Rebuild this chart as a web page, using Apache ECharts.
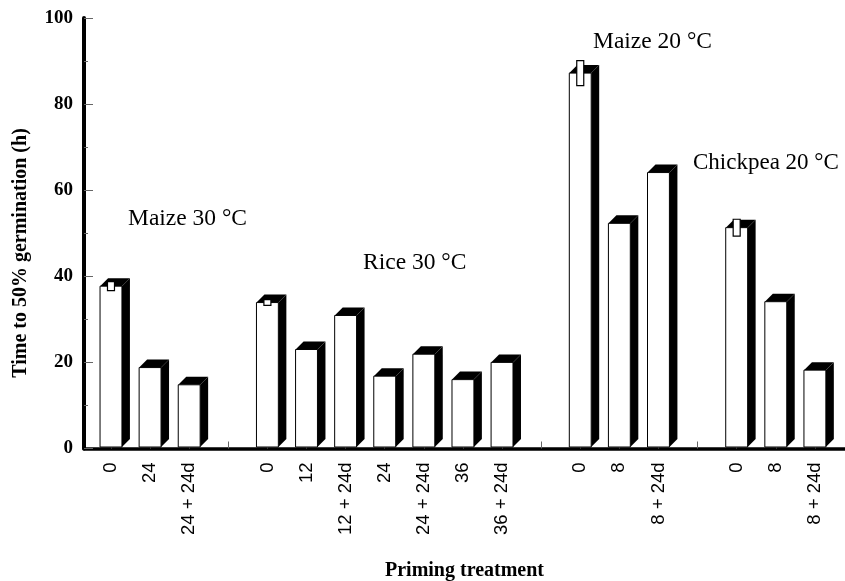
<!DOCTYPE html>
<html lang="en">
<head>
  <meta charset="UTF-8">
  <title>Priming</title>
  <style>
    body{
      margin: 0;
    }
    .chart{
      width: 845px;
      height: 581px;
      background: white;
    }
  </style>
</head>
<body>
<div class="chart"></div>
<script src="https://cdn.jsdelivr.net/npm/echarts@6/dist/echarts.min.js"></script>
<script>
  // one slot per tick, '' = gap between crop groups
  const treatments = ['0', '24', '24 + 24d', '',
    '0', '12', '12 + 24d', '24', '24 + 24d', '36', '36 + 24d', '',
    '0', '8', '8 + 24d', '',
    '0', '8', '8 + 24d'];
  const hours = [37.7, 18.8, 14.8, null,
    33.9, 23.0, 30.9, 16.8, 21.9, 16.0, 20.0, null,
    87.2, 52.3, 64.1, null,
    51.3, 34.1, 18.2];
  const errs = [1.05, 0, 0, null,
    0.66, 0, 0, 0, 0, 0, 0, null,
    2.9, 0, 0, null,
    1.95, 0, 0];
  const groupNames = ['Maize 30 °C', 'Rice 30 °C', 'Maize 20 °C', 'Chickpea 20 °C'];

  const serif = '"Liberation Serif", "Times New Roman", serif';
  const sans = '"Liberation Sans", Arial, sans-serif';

  const data = [];
  hours.forEach((h, i) => {
    if (h !== null) data.push([i, h, errs[i]]);
  });
  const slots = treatments.map((t, i) => i);

  function renderBar(params, api){
    const x = api.value(0);
    const v = api.value(1);
    const e = api.value(2);
    const p = api.coord([x, v]);
    const p0 = api.coord([x, 0]);
    const w = api.size([1, 0])[0] * 0.56;
    const d = 8;
    const l = p[0] - w / 2, r = p[0] + w / 2, t = p[1], b = p0[1] - 1.5;
    const children = [
      {
        type: 'polygon',
        shape: {points: [[r, t], [r + d, t - d], [r + d, b - d], [r, b]]},
        style: {fill: '#000'}
      },
      {
        type: 'polygon',
        shape: {points: [[l, t], [l + d, t - d], [r + d, t - d], [r, t]]},
        style: {fill: '#000'}
      },
      {
        type: 'rect',
        shape: {x: l, y: t, width: w, height: b - t},
        style: {fill: '#fff', stroke: '#000', lineWidth: 1}
      }
    ];
    if (e > 0){
      const hi = api.coord([x, v + e]);
      const lo = api.coord([x, v - e]);
      children.push({
        type: 'rect',
        shape: {x: p[0] - 3.5, y: hi[1], width: 7, height: lo[1] - hi[1]},
        style: {fill: '#fff', stroke: '#000', lineWidth: 1.2}
      });
    }
    return {type: 'group', children: children};
  }

  const container = document.querySelector('.chart');
  const instance = echarts.init(container);
  const option = {
    animation: false,
    grid: {left: 84, right: 0, top: 18, bottom: 132.5, outerBoundsMode: 'none'},
    xAxis: {
      type: 'value',
      min: -0.69,
      max: 18.77,
      name: 'Priming treatment',
      nameLocation: 'middle',
      nameGap: 112,
      nameTextStyle: {fontFamily: serif, fontWeight: 'bold', fontSize: 20, color: '#000'},
      splitLine: {show: false},
      axisLine: {lineStyle: {color: '#000', width: 3.5}},
      axisTick: {
        customValues: slots,
        inside: true,
        length: 7,
        lineStyle: {color: '#666', width: 1}
      },
      axisLabel: {
        customValues: slots,
        rotate: 90,
        margin: 14,
        fontFamily: sans,
        fontSize: 18.5,
        color: '#000',
        formatter: (v) => treatments[Math.round(v)] || ''
      }
    },
    yAxis: {
      type: 'value',
      min: 0,
      max: 100,
      interval: 20,
      splitLine: {show: false},
      axisLine: {show: true, onZero: false, lineStyle: {color: '#000', width: 4}},
      axisTick: {inside: true, length: 9, lineStyle: {color: '#666', width: 1}},
      minorTick: {show: true, splitNumber: 2, length: 4, lineStyle: {color: '#666', width: 1}},
      axisLabel: {fontFamily: serif, fontWeight: 'bold', fontSize: 19, color: '#000', margin: 11}
    },
    graphic: [
      {
        type: 'text', x: 21, y: 253, rotation: Math.PI / 2,
        style: {
          text: 'Time to 50% germination (h)', font: 'bold 20px ' + serif,
          fill: '#000', align: 'center', verticalAlign: 'middle'
        }
      },
      {type: 'text', left: 128, top: 207, style: {text: groupNames[0], font: '23.5px ' + serif, fill: '#000'}},
      {type: 'text', left: 363, top: 251, style: {text: groupNames[1], font: '23.5px ' + serif, fill: '#000'}},
      {type: 'text', left: 593, top: 30, style: {text: groupNames[2], font: '23.5px ' + serif, fill: '#000'}},
      {type: 'text', left: 693, top: 151, style: {text: groupNames[3], font: '23px ' + serif, fill: '#000'}}
    ],
    series: [
      {
        type: 'custom',
        renderItem: renderBar,
        data: data
      }
    ]
  };
  instance.setOption(option);
</script>
</body>
</html>
